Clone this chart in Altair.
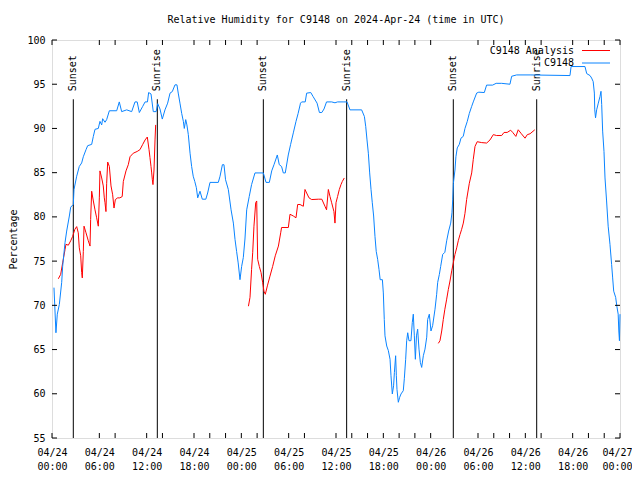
import altair as alt
import pandas as pd

# ---------------- data (hours since 2024-04-24 00:00 UTC, relative humidity %) -------------
blue_t = [0.25, 0.5, 0.67, 0.93, 1.23, 1.35, 1.65, 1.86, 2.2, 2.37, 2.7, 2.79, 3.13, 3.46, 3.76,
          3.97, 4.31, 4.52, 5.03, 5.24, 5.45, 5.87, 6.08, 6.3, 6.42, 6.72, 6.93, 7.27, 7.86, 8.2,
          8.53, 8.83, 9.47, 10.1, 10.52, 10.8, 11.07, 11.5, 11.8, 12.1, 12.25, 12.55, 12.84, 13.2,
          13.4, 13.69, 13.98, 14.32, 14.66, 14.96, 15.25, 15.59, 15.84, 16.0, 16.22, 16.44, 16.65,
          16.77, 16.95, 17.1, 17.28, 17.5, 17.7, 17.9, 18.1, 18.3, 18.47, 18.76, 19.05, 19.5,
          19.73, 20.03, 21.08, 21.3, 21.6, 21.8, 22.0, 22.35, 22.7, 22.99, 23.2, 23.4, 23.6, 23.83,
          24.04, 24.25, 24.46, 24.68, 25.0, 25.3, 25.73, 26.79, 27.13, 27.55, 27.85, 28.14, 28.56,
          28.81, 29.1, 29.32, 29.57, 29.95, 30.25, 30.59, 30.93, 31.2, 31.5, 31.65, 32.1, 32.28,
          32.8, 33.1, 33.6, 33.9, 34.2, 34.48, 34.8, 35.45, 35.87, 36.2, 37.0, 37.4, 37.77, 39.25,
          39.6, 39.77, 39.93, 40.1, 40.27, 40.44, 40.6, 40.77, 40.94, 41.1, 41.28, 41.45, 41.6,
          41.88, 42.0, 42.12, 42.21, 42.43, 42.63, 42.85, 42.97, 43.14, 43.3, 43.4, 43.56, 43.65,
          43.73, 43.9, 44.07, 44.24, 44.53, 44.66, 44.83, 44.96, 45.09, 45.25, 45.5, 45.67, 45.8,
          45.93, 46.06, 46.2, 46.35, 46.52, 46.69, 46.86, 47.07, 47.28, 47.5, 47.62, 47.83, 48.04,
          48.25, 48.55, 48.76, 48.89, 49.1, 49.27, 49.52, 49.8, 50.03, 50.28, 50.54, 50.7, 50.8,
          50.88, 51.08, 51.2, 51.37, 51.63, 51.84, 52.13, 52.35, 52.64, 52.9, 53.2, 53.4, 53.83,
          54.1, 54.8, 55.09, 55.85, 56.3, 57.0, 58.05, 58.27, 58.9, 60.6, 65.66, 65.8, 67.56,
          67.78, 68.2, 68.4, 68.6, 68.75, 68.8, 68.9, 69.04, 69.25, 69.46, 69.59, 69.68, 69.8,
          69.97, 70.1, 70.3, 70.5, 70.73, 70.94, 71.07, 71.2, 71.45, 71.6, 71.77, 71.85, 71.93, 72.0]
blue_v = [72.0, 66.9, 69.0, 70.1, 72.6, 74.4, 77.1, 78.4, 80.1, 81.1, 81.4, 83.1, 84.6, 85.7, 86.1,
          86.8, 87.6, 88.05, 88.2, 89.1, 89.9, 90.0, 90.8, 90.4, 91.1, 90.7, 91.0, 92.0, 92.0, 92.0,
          93.0, 91.9, 92.1, 91.9, 93.0, 93.0, 91.8, 92.5, 93.0, 93.0, 94.06, 93.9, 91.9, 91.9,
          92.8, 92.2, 91.06, 92.1, 92.86, 93.99, 94.17, 94.93, 94.93, 94.0, 92.86, 91.7, 90.8,
          90.0, 91.0, 90.4, 89.3, 87.2, 85.7, 84.6, 84.0, 83.3, 82.15, 82.9, 82.0, 82.0,
          82.7, 83.9, 83.9, 84.6, 85.9, 85.9, 84.2, 83.1, 80.8, 79.3, 77.45, 76.1, 74.8, 72.9,
          74.4, 75.4, 77.5, 80.8, 82.3, 83.65, 84.97, 84.97, 83.9, 83.9, 85.2, 85.9, 87.0,
          85.9, 85.7, 84.97, 84.97, 87.0, 88.2, 89.5, 90.8, 91.7, 92.86, 93.0, 93.0, 93.99,
          94.06, 93.6, 92.86, 91.8, 91.8, 92.2, 93.0, 93.0, 92.9, 93.0, 93.0, 93.0, 92.1, 92.1,
          91.35, 90.2, 88.7, 87.2, 84.97, 83.1, 81.6, 80.1, 77.8, 76.1, 75.2, 74.07, 72.9,
          72.9, 71.4, 68.4, 66.55, 65.4, 64.9, 63.9, 62.04, 59.98, 60.9, 62.4, 64.3, 62.04,
          60.5, 59.04, 59.6, 59.98, 60.35, 61.7, 63.9, 66.0, 66.9, 66.0, 66.0, 68.06, 69.0,
          66.55, 63.9, 66.55, 67.3, 65.05, 63.55, 62.98, 64.3, 65.05, 66.4, 68.4, 69.0, 67.1,
          67.7, 69.56, 71.25, 72.6, 73.5, 74.4, 75.75, 76.0, 77.3, 78.4, 79.3, 80.46, 82.0,
          83.8, 85.3, 86.8, 87.8, 88.2, 88.9, 89.1, 90.0, 90.8, 91.7, 92.5, 93.0, 94.0,
          94.1, 94.06, 94.9, 94.9, 95.1, 95.1, 95.0, 95.9, 96.05, 96.05, 95.98, 97.0, 97.0,
          96.2, 95.98, 95.7, 95.3, 94.0, 92.1, 91.2, 92.1, 92.86, 93.6, 94.2, 92.7, 89.7,
          87.4, 84.4, 81.8, 78.95, 76.9, 74.6, 73.1, 71.6, 70.9, 69.9, 69.0, 67.1, 66.0, 69.0]

red1_t = [0.8, 1.1, 1.35, 1.65, 1.77, 2.07, 2.37, 2.62, 2.9, 3.13, 3.33, 3.46, 3.64, 3.76, 3.84,
          3.97, 4.06, 4.31, 4.6, 4.82, 4.9, 5.03, 5.24, 5.45, 5.66, 5.87, 6.0, 6.08, 6.3, 6.5,
          6.63, 6.72, 6.84, 6.93, 7.06, 7.27, 7.48, 7.69, 7.86, 8.03, 8.32, 8.6, 8.9, 9.04, 9.38,
          9.67, 9.89, 10.3, 10.8, 11.15, 11.5, 11.8, 12.08, 12.3, 12.42, 12.55, 12.64, 12.72,
          12.8, 12.93, 13.06, 13.14]
red1_v = [73.0, 73.5, 74.8, 76.3, 76.9, 76.8, 77.3, 77.8, 78.6, 78.9, 78.2, 76.5, 75.6, 73.7, 73.1,
          76.1, 78.95, 78.2, 77.3, 76.7, 79.7, 82.9, 81.8, 80.8, 79.9, 78.95, 82.15, 85.2, 84.4, 83.5,
          82.15, 81.6, 80.6, 83.8, 86.2, 85.7, 83.5, 82.5, 81.0, 81.96, 82.15, 82.15, 82.3, 84.0, 85.2,
          85.9, 86.8, 87.2, 87.4, 87.6, 88.2, 88.7, 89.03, 87.6, 86.7, 85.7, 84.97, 84.2,
          83.65, 85.3, 88.7, 90.4]

red2_t = [24.9, 25.1, 25.3, 25.44, 25.6, 25.82, 25.95, 26.07, 26.28, 26.5, 26.7, 26.87, 27.04, 27.3,
          27.63, 27.97, 28.3, 28.7, 28.99, 29.1, 29.96, 30.17, 30.59, 30.93, 31.14, 31.44, 31.86,
          32.07, 32.28, 32.58, 32.92, 33.76, 34.2, 34.6, 34.8, 35.03, 35.24, 35.45, 35.74, 35.87,
          36.0, 36.2, 36.42, 36.63, 36.8, 37.05]
red2_v = [69.9, 70.9, 74.07, 75.95, 78.95, 81.6, 81.8, 75.2, 74.4, 73.7, 72.6, 71.6, 71.25, 72.2,
          73.3, 74.4, 75.6, 76.7, 78.2, 78.8, 78.8, 80.3, 80.1, 79.9, 81.4, 81.4, 81.2,
          83.1, 82.7, 82.15, 81.96, 82.0, 82.0, 81.2, 80.8, 83.1, 82.3, 81.6, 80.6, 79.3,
          81.6, 82.3, 83.1, 83.65, 84.0, 84.4]

red3_t = [48.97, 49.18, 49.4, 49.6, 49.8, 50.03, 50.24, 50.45, 50.67, 50.87, 51.08, 51.3, 51.5, 51.72,
          51.93, 52.14, 52.35, 52.56, 52.9, 53.2, 53.4, 53.62, 53.9, 54.47, 55.1, 55.52, 55.94,
          56.36, 57.0, 57.3, 57.7, 58.14, 58.4, 58.8, 59.1, 59.5, 59.96, 60.25, 60.6, 61.2]
red3_v = [65.7, 66.0, 67.1, 68.4, 69.56, 70.7, 71.8, 72.75, 73.9, 74.8, 75.75, 76.5, 77.3, 78.0,
          78.6, 79.3, 80.4, 81.96, 83.8, 84.97, 86.5, 87.97, 88.5, 88.4, 88.35, 88.7, 89.3,
          89.2, 89.2, 89.55, 89.55, 89.8, 89.55, 89.1, 89.85, 89.4, 88.9, 89.3, 89.4, 89.85]

event_t = [2.70, 13.35, 26.79, 37.35, 50.87, 61.44]
event_label = ["Sunset", "Sunrise", "Sunset", "Sunrise", "Sunset", "Sunrise"]

x_ticks = list(range(0, 73, 6))
x_minor = [8, 14, 20, 22, 26, 32, 38, 40, 44, 46, 56, 58, 62, 68, 70]
y_ticks = list(range(55, 101, 5))

series_names = ["C9148 Analysis", "C9148"]
series_colors = ["#ff0000", "#0a84ff"]
title_text = "Relative Humidity for C9148 on 2024-Apr-24 (time in UTC)"
y_title = "Percentage"

# ---------------- build tables ----------------
blue_df = pd.DataFrame({"t": blue_t, "v": blue_v})
red_rows = []
for k, (ts, vs) in enumerate([(red1_t, red1_v), (red2_t, red2_v), (red3_t, red3_v)]):
    for t, v in zip(ts, vs):
        red_rows.append({"t": t, "v": v, "seg": k})
red_df = pd.DataFrame(red_rows)
events_df = pd.DataFrame({"t": event_t, "label": event_label})
xt_df = pd.DataFrame({"t": x_ticks + x_minor})
yt_df = pd.DataFrame({"v": y_ticks})

W, H = 568, 398
FONT = "DejaVu Sans Mono"
FS = 10

xscale = alt.Scale(domain=[0, 72], nice=False, zero=False)
yscale = alt.Scale(domain=[55, 100], nice=False, zero=False)

x_label_expr = ("['04/' + (24 + floor(datum.value / 24)), "
                "(datum.value % 24 < 10 ? '0' : '') + (datum.value % 24) + ':00']")

xaxis = alt.Axis(values=x_ticks, labelExpr=x_label_expr, ticks=False, domain=False, grid=False,
                 labelFont=FONT, labelFontSize=FS, labelColor="black", labelPadding=9,
                 labelBaseline="top", labelLineHeight=14, labelFlush=False, labelOverlap=False,
                 labelBound=False,
                 labelOffset={"condition": {"test": "datum.value == 72", "value": -3}, "value": 0},
                 title=None)
yaxis = alt.Axis(values=y_ticks, ticks=False, domain=False, grid=False,
                 labelFont=FONT, labelFontSize=FS, labelColor="black", labelPadding=7,
                 labelFlush=False, labelOverlap=False,
                 title=y_title, titleFont=FONT, titleFontSize=FS, titleFontWeight="normal",
                 titleColor="black", titleX=-39, titleY=H / 2, titleAngle=270,
                 titleAlign="center", titleBaseline="middle")

X = lambda f="t": alt.X(f"{f}:Q", scale=xscale, axis=xaxis)
Y = lambda f="v": alt.Y(f"{f}:Q", scale=yscale, axis=yaxis)

# event rules and labels
ev_rules = alt.Chart(events_df).mark_rule(color="black", strokeWidth=1).encode(
    x=X(), y=alt.Y(datum=93.3, scale=yscale, axis=yaxis), y2=alt.value(H))
ev_text = alt.Chart(events_df).mark_text(angle=270, align="left", baseline="middle",
                                         font=FONT, fontSize=FS, color="black").encode(
    x=X(), y=alt.Y(datum=94.2, scale=yscale, axis=yaxis), text="label:N")

red_line = alt.Chart(red_df).mark_line(color=series_colors[0], strokeWidth=1).encode(
    x=X(), y=Y(), detail="seg:N", order="t:Q")
blue_line = alt.Chart(blue_df).mark_line(color=series_colors[1], strokeWidth=1).encode(
    x=X(), y=Y(), order="t:Q")

# inward ticks (gnuplot style, mirrored)
xt_bottom = alt.Chart(xt_df).mark_rule(color="black").encode(
    x=X(), y=alt.value(H), y2=alt.value(H - 5))
xt_top = alt.Chart(xt_df).mark_rule(color="black").encode(
    x=X(), y=alt.value(0), y2=alt.value(5))
yt_left = alt.Chart(yt_df).mark_rule(color="black").encode(
    y=Y(), x=alt.value(0), x2=alt.value(5))
yt_right = alt.Chart(yt_df).mark_rule(color="black").encode(
    y=Y(), x=alt.value(W), x2=alt.value(W - 5))

# key (top right, gnuplot style: text then line sample)
key_layers = []
for i, (name, col) in enumerate(zip(series_names, series_colors)):
    yy = 10.5 + 12.5 * i
    key_df = pd.DataFrame({"name": [name]})
    key_layers.append(alt.Chart(key_df).mark_text(align="right", baseline="middle", font=FONT,
                                                  fontSize=FS, color="black").encode(
        x=alt.value(522), y=alt.value(yy), text="name:N"))
    key_layers.append(alt.Chart(key_df).mark_rule(color=col, strokeWidth=1).encode(
        x=alt.value(530), x2=alt.value(558), y=alt.value(yy)))

chart = alt.layer(
    ev_rules, ev_text, red_line, blue_line, xt_bottom, xt_top, yt_left, yt_right, *key_layers
).properties(
    width=W, height=H,
    title=alt.TitleParams(title_text, font=FONT, fontSize=FS, fontWeight="normal",
                          color="black", anchor="middle", offset=10),
    autosize=alt.AutoSizeParams(type="none"),
    padding={"left": 44, "top": 32, "right": 12, "bottom": 36},
).configure_view(stroke="black", strokeWidth=1).configure(background="white")

chart.save("out.html", embed_options={"renderer": "svg", "actions": False})
